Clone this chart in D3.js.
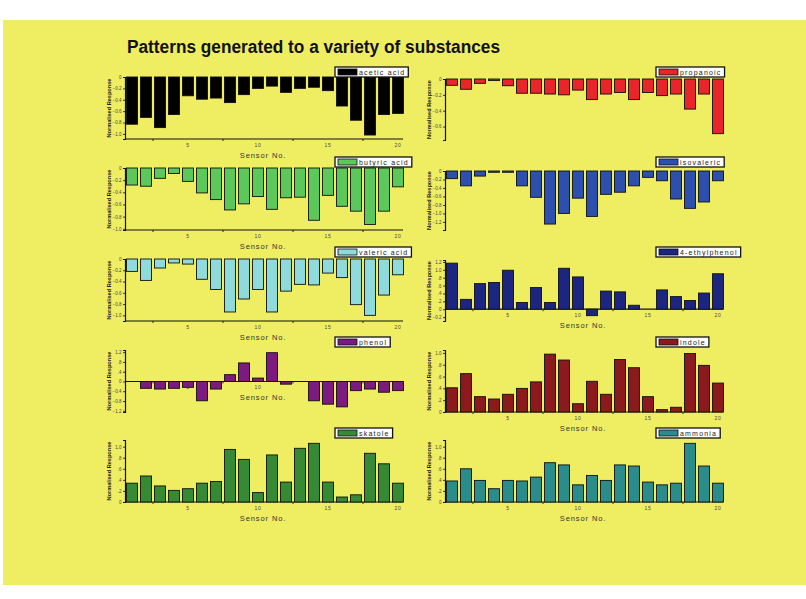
<!DOCTYPE html>
<html><head><meta charset="utf-8">
<script src="https://cdn.jsdelivr.net/npm/d3@7"></script>
<style>
html,body{margin:0;padding:0;background:#fff;}
text{font-family:"Liberation Sans",Arial,sans-serif;}
</style></head>
<body>
<script>
// ---------- data ----------
const sensors = d3.range(1, 21);
const xTickLabels = [5, 10, 15, 20];
const xMinorTicks = [2.5, 7.5, 12.5, 17.5];

const substances = ["acetic acid","propanoic","butyric acid","isovaleric","valeric acid","4-ethylphenol","phenol","indole","skatole","ammonia"];
const colors = ["#000000","#e8262a","#5dc85a","#2d4fae","#8fdada","#1c2680","#7d1a80","#8c1a1c","#368a33","#2b8c8c"];

const aceticAcid   = [-0.83,-0.71,-0.89,-0.66,-0.33,-0.39,-0.37,-0.45,-0.31,-0.20,-0.16,-0.27,-0.20,-0.18,-0.24,-0.51,-0.76,-1.02,-0.66,-0.64];
const propanoic    = [-0.08,-0.13,-0.055,-0.02,-0.085,-0.18,-0.18,-0.19,-0.20,-0.14,-0.26,-0.19,-0.17,-0.26,-0.17,-0.21,-0.19,-0.38,-0.19,-0.69];
const butyricAcid  = [-0.28,-0.30,-0.17,-0.09,-0.22,-0.41,-0.52,-0.69,-0.59,-0.47,-0.68,-0.49,-0.48,-0.86,-0.45,-0.63,-0.71,-0.93,-0.71,-0.31];
const isovaleric   = [-0.18,-0.35,-0.12,-0.03,-0.03,-0.35,-0.62,-1.25,-1.00,-0.64,-1.07,-0.55,-0.50,-0.35,-0.15,-0.23,-0.66,-0.88,-0.73,-0.23];
const valericAcid  = [-0.22,-0.38,-0.16,-0.07,-0.09,-0.36,-0.54,-0.94,-0.71,-0.54,-0.94,-0.57,-0.45,-0.46,-0.25,-0.33,-0.81,-1.00,-0.64,-0.28];
const ethylphenol  = [1.17,0.25,0.65,0.68,0.99,0.17,0.55,0.17,1.04,0.82,-0.165,0.46,0.44,0.10,0.0,0.49,0.32,0.22,0.41,0.90];
const phenol       = [0,-0.28,-0.31,-0.28,-0.24,-0.79,-0.31,0.28,0.76,0.14,1.18,-0.11,0,-0.79,-0.93,-1.04,-0.375,-0.31,-0.44,-0.375];
const indole       = [0.41,0.65,0.26,0.22,0.30,0.40,0.51,0.98,0.88,0.14,0.52,0.30,0.89,0.75,0.26,0.04,0.08,0.99,0.79,0.49];
const skatole      = [0.34,0.47,0.29,0.21,0.24,0.34,0.37,0.95,0.77,0.17,0.85,0.36,0.97,1.06,0.36,0.09,0.13,0.88,0.69,0.34];
const ammonia      = [0.38,0.60,0.39,0.24,0.39,0.38,0.45,0.71,0.67,0.31,0.48,0.39,0.67,0.65,0.36,0.31,0.34,1.06,0.65,0.34];

const seriesValues = [aceticAcid, propanoic, butyricAcid, isovaleric, valericAcid, ethylphenol, phenol, indole, skatole, ammonia];

const yTicksAcetic   = [0,-0.2,-0.4,-0.6,-0.8,-1.0];
const yTicksProp     = [0,-0.2,-0.4,-0.6];
const yTicksButyric  = [0,-0.2,-0.4,-0.6,-0.8,-1.0];
const yTicksIsoval   = [0,-0.2,-0.4,-0.6,-0.8,-1.0,-1.2];
const yTicksValeric  = [0,-0.2,-0.4,-0.6,-0.8,-1.0];
const yTicksEthyl    = [-0.2,0,0.2,0.4,0.6,0.8,1.0,1.2];
const yTicksPhenol   = [-1.2,-0.8,-0.4,0,0.4,0.8,1.2];
const yTicksIndole   = [0,0.2,0.4,0.6,0.8,1.0];
const yTicksSkatole  = [0,0.2,0.4,0.6,0.8,1.0];
const yTicksAmmonia  = [0,0.2,0.4,0.6,0.8,1.0];
const yTickSets = [yTicksAcetic,yTicksProp,yTicksButyric,yTicksIsoval,yTicksValeric,yTicksEthyl,yTicksPhenol,yTicksIndole,yTicksSkatole,yTicksAmmonia];

// ---------- layout / scales config ----------
const yDomains = [[-1.09,0],[-0.77,0],[-1.02,0],[-1.39,0],[-1.1,0],[-0.3,1.25],[-1.25,1.29],[0,1.05],[0,1.12],[0,1.12]];
// where the x axis sits (value), null = no x axis
const xAxisAt = [-1.09, null, -1.02, null, -1.1, 0, 0, 0, 0, 0];
const rowTops = [[77,79],[168,171],[259,260],[350,350],[440,440]];
const legendTops = [67,157,247,337,428];

const W = 806, H = 599;
const svg = d3.select("body").append("svg").attr("width", W).attr("height", H);
svg.append("rect").attr("width", W).attr("height", H).attr("fill", "#fff");
svg.append("rect").attr("x", 3).attr("y", 20).attr("width", 803).attr("height", 565).attr("fill", "#efee62");

svg.append("text").attr("x", 127).attr("y", 53)
  .attr("font-size", 17.5).attr("font-weight", "bold").attr("fill", "#111")
  .attr("textLength", 373).attr("lengthAdjust", "spacingAndGlyphs")
  .text("Patterns generated to a variety of substances");

const fmt = v => {
  if (Math.abs(v) < 1e-9) return "0";
  let s = d3.format(".1f")(v);
  return s.replace(/^(-?)0\./, "$1.");
};

substances.forEach((name, k) => {
  const row = Math.floor(k / 2), col = k % 2;
  const left = col === 0 ? 125 : 445;
  const top = rowTops[row][col];
  const yBottom = (row === 0 && col === 1) ? 140 : rowTops[row][0] + 62;
  const g = svg.append("g");
  const x = d3.scaleLinear().domain([0.5, 20.5]).range([left, left + 280]);
  const y = d3.scaleLinear().domain(yDomains[k]).range([yBottom, top]);

  // y axis
  const ya = g.append("g").attr("transform", `translate(${left},0)`)
    .call(d3.axisLeft(y).tickValues(yTickSets[k]).tickSize(2).tickPadding(1.5).tickFormat(fmt));
  ya.select(".domain").attr("stroke", "#111").attr("stroke-width", 1.2);
  ya.selectAll(".tick line").attr("stroke", "#111").attr("stroke-width", 0.8);
  ya.selectAll(".tick text").attr("font-size", 4.5).attr("fill", "#444").attr("font-family", "Liberation Sans, Arial");

  // y label
  g.append("text")
    .attr("transform", `translate(${left - 15},${(top + yBottom) / 2}) rotate(-90)`)
    .attr("text-anchor", "middle").attr("dominant-baseline", "middle")
    .attr("font-size", 5.6).attr("font-weight", "bold").attr("fill", "#222")
    .text("Normalised Response");

  // x axis
  if (xAxisAt[k] !== null) {
    const ay = y(xAxisAt[k]);
    g.append("line").attr("x1", left).attr("x2", left + 278).attr("y1", ay).attr("y2", ay)
      .attr("stroke", "#111").attr("stroke-width", 1.2);
    g.selectAll(".mt").data(xMinorTicks).join("line")
      .attr("x1", d => x(d)).attr("x2", d => x(d)).attr("y1", ay).attr("y2", ay + 2)
      .attr("stroke", "#111").attr("stroke-width", 0.9);
    g.selectAll(".xl").data(xTickLabels).join("text")
      .attr("x", d => x(d)).attr("y", ay + 8)
      .attr("text-anchor", "middle").attr("font-size", 5).attr("fill", "#444")
      .attr("letter-spacing", 0.8)
      .text(d => d);
    g.append("text").attr("x", left + 138).attr("y", ay + 19)
      .attr("text-anchor", "middle").attr("font-size", 7.5).attr("fill", "#333")
      .attr("letter-spacing", 0.9)
      .text("Sensor No.");
  }

  // bars
  const vals = seriesValues[k];
  g.selectAll(".bar").data(sensors).join("rect")
    .attr("x", d => x(d) - 5.5)
    .attr("width", 11)
    .attr("y", d => Math.min(y(0), y(vals[d - 1])))
    .attr("height", d => Math.abs(y(vals[d - 1]) - y(0)))
    .attr("fill", colors[k])
    .attr("stroke", "#111").attr("stroke-width", 0.9);

  // legend
  const lx = col === 0 ? 335 : 656;
  const ly = legendTops[row];
  const lg = svg.append("g").attr("transform", `translate(${lx},${ly})`);
  const box = lg.append("rect").attr("height", 10).attr("fill", "#fff").attr("stroke", "#111").attr("stroke-width", 1.3);
  lg.append("rect").attr("x", 3).attr("y", 2).attr("width", 19).attr("height", 6)
    .attr("fill", colors[k]).attr("stroke", "#111").attr("stroke-width", 0.8);
  const t = lg.append("text").attr("x", 24).attr("y", 7.5).attr("font-size", 7).attr("fill", "#222")
    .attr("letter-spacing", 1.2).text(name);
  const tw = t.node().getComputedTextLength();
  box.attr("width", 24 + tw + 3);
});
</script>
</body></html>
